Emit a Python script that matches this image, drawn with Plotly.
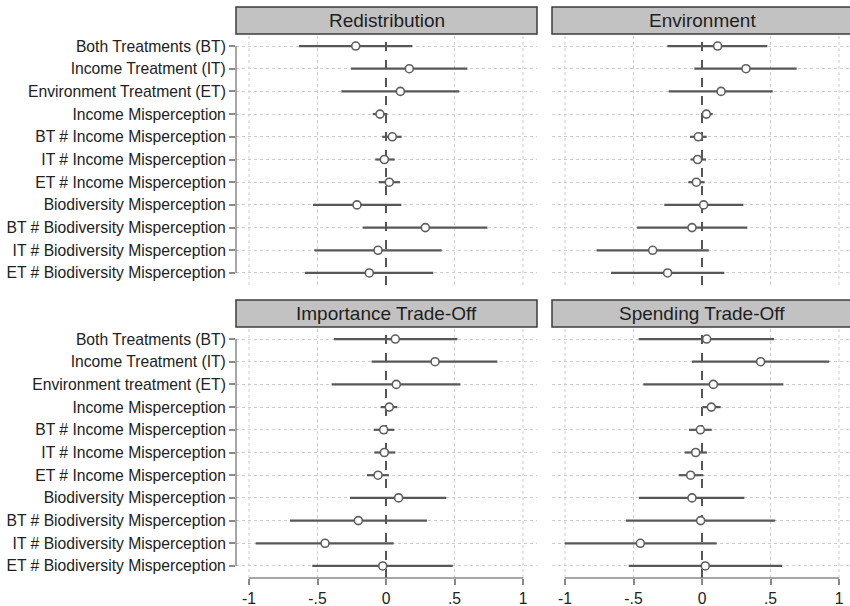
import plotly.graph_objects as go

# ---------------- data ----------------
labels_top = [
    "Both Treatments (BT)", "Income Treatment (IT)", "Environment Treatment (ET)",
    "Income Misperception", "BT # Income Misperception", "IT # Income Misperception",
    "ET # Income Misperception", "Biodiversity Misperception",
    "BT # Biodiversity Misperception", "IT # Biodiversity Misperception",
    "ET # Biodiversity Misperception",
]
labels_bottom = [
    "Both Treatments (BT)", "Income Treatment (IT)", "Environment treatment (ET)",
    "Income Misperception", "BT # Income Misperception", "IT # Income Misperception",
    "ET # Income Misperception", "Biodiversity Misperception",
    "BT # Biodiversity Misperception", "IT # Biodiversity Misperception",
    "ET # Biodiversity Misperception",
]
panel_titles = ["Redistribution", "Environment", "Importance Trade-Off", "Spending Trade-Off"]

redistribution_est = [-0.221, 0.170, 0.105, -0.044, 0.046, -0.012, 0.024, -0.212, 0.287, -0.058, -0.122]
redistribution_lo = [-0.635, -0.255, -0.326, -0.097, -0.027, -0.078, -0.054, -0.533, -0.170, -0.523, -0.591]
redistribution_hi = [0.192, 0.594, 0.535, 0.010, 0.114, 0.063, 0.102, 0.112, 0.740, 0.406, 0.345]

environment_est = [0.114, 0.321, 0.139, 0.032, -0.027, -0.032, -0.041, 0.012, -0.073, -0.360, -0.251]
environment_lo = [-0.253, -0.056, -0.243, -0.007, -0.088, -0.083, -0.100, -0.275, -0.474, -0.769, -0.664]
environment_hi = [0.477, 0.691, 0.516, 0.078, 0.034, 0.029, 0.019, 0.302, 0.331, 0.049, 0.163]

importance_est = [0.068, 0.358, 0.075, 0.024, -0.017, -0.012, -0.058, 0.092, -0.202, -0.445, -0.024]
importance_lo = [-0.380, -0.105, -0.397, -0.039, -0.090, -0.085, -0.139, -0.263, -0.701, -0.951, -0.538]
importance_hi = [0.521, 0.813, 0.543, 0.083, 0.061, 0.068, 0.022, 0.440, 0.299, 0.056, 0.487]

spending_est = [0.034, 0.428, 0.083, 0.068, -0.012, -0.046, -0.083, -0.073, -0.010, -0.450, 0.024]
spending_lo = [-0.462, -0.073, -0.428, 0.002, -0.095, -0.127, -0.170, -0.460, -0.555, -1.002, -0.535]
spending_hi = [0.526, 0.929, 0.594, 0.136, 0.071, 0.036, 0.010, 0.309, 0.535, 0.107, 0.584]

x_tickvals = [-1, -0.5, 0, 0.5, 1]
x_ticktext = ["-1", "-.5", "0", ".5", "1"]

# ---------------- layout geometry (pixels) ----------------
W, H = 850, 606
col_px = [(236, 537), (552, 852)]
row_px = [(34, 285), (327, 578)]          # plot areas (top, bottom) in px from top
strip_px = [(7, 34), (300, 327)]
PX_PER_UNIT = 137.0
zero_px = [386, 702]


def fx(p):
    return p / W


def fy(p):
    return (H - p) / H


panels = [
    (redistribution_est, redistribution_lo, redistribution_hi, labels_top),
    (environment_est, environment_lo, environment_hi, labels_top),
    (importance_est, importance_lo, importance_hi, labels_bottom),
    (spending_est, spending_lo, spending_hi, labels_bottom),
]

LINE_C = "#575757"
GRID_C = "#cdcdcd"
AXIS_C = "#8a8a8a"
FONT = "Liberation Sans, Arial, Helvetica, sans-serif"
TICK_FS = 15.7

fig = go.Figure()
layout = dict(
    width=W, height=H, margin=dict(l=0, r=0, t=0, b=0),
    paper_bgcolor="white", plot_bgcolor="white", showlegend=False,
    font=dict(family=FONT, color="#222222"),
)
shapes = []
annotations = []

for i, (est, lo, hi, labs) in enumerate(panels):
    r, c = divmod(i, 2)
    n = i + 1
    xa = "x" if n == 1 else f"x{n}"
    ya = "y" if n == 1 else f"y{n}"
    xkey = "xaxis" if n == 1 else f"xaxis{n}"
    ykey = "yaxis" if n == 1 else f"yaxis{n}"
    ypos = list(range(len(labs)))

    fig.add_trace(go.Scatter(
        x=est, y=ypos, mode="markers", xaxis=xa, yaxis=ya,
        marker=dict(symbol="circle", size=8, color="white",
                    line=dict(color="#5e5e5e", width=1.6)),
        error_x=dict(type="data", symmetric=False,
                     array=[h - e for h, e in zip(hi, est)],
                     arrayminus=[e - l for e, l in zip(est, lo)],
                     color=LINE_C, thickness=2.2, width=0),
        hoverinfo="skip",
    ))

    cx0, cx1 = col_px[c]
    ry0, ry1 = row_px[r]
    vis_x1 = min(cx1, W)
    bottom = (r == 1)
    left = (c == 0)
    xr = [(cx0 - zero_px[c]) / PX_PER_UNIT, (vis_x1 - zero_px[c]) / PX_PER_UNIT]

    layout[xkey] = dict(
        domain=[fx(cx0), fx(vis_x1)],
        range=xr,
        anchor=ya, tickvals=x_tickvals, ticktext=x_ticktext,
        showticklabels=bottom, ticks="outside" if bottom else "",
        ticklen=6, tickwidth=1.5, tickcolor=AXIS_C,
        tickfont=dict(size=TICK_FS, family=FONT, color="#222222"),
        showgrid=False, zeroline=False, showline=False, fixedrange=True,
    )
    layout[ykey] = dict(
        domain=[fy(ry1), fy(ry0)],
        range=[len(labs) - 1 + 0.53, -0.53],
        anchor=xa, tickvals=ypos, ticktext=labs,
        showticklabels=left, ticks="outside" if left else "",
        ticklen=6, tickwidth=1.5, tickcolor=AXIS_C,
        tickfont=dict(size=TICK_FS, family=FONT, color="#222222"),
        showgrid=True, gridcolor=GRID_C, gridwidth=1, griddash="dot",
        zeroline=False, showline=False, fixedrange=True,
    )

    # vertical dotted gridlines (except at zero)
    for tv in x_tickvals:
        if tv == 0:
            continue
        shapes.append(dict(type="line", xref=xa, yref=f"{ya} domain",
                           x0=tv, x1=tv, y0=0, y1=1, layer="below",
                           line=dict(color=GRID_C, width=1, dash="dot")))
    # dashed zero reference line
    shapes.append(dict(type="line", xref=xa, yref=f"{ya} domain",
                       x0=0, x1=0, y0=0, y1=1, layer="below",
                       line=dict(color="#555555", width=2, dash="dash")))
    # axis lines (Stata style: only across the tick range)
    if bottom:
        shapes.append(dict(type="line", xref=xa, yref=f"{ya} domain",
                           x0=x_tickvals[0], x1=x_tickvals[-1], y0=0, y1=0,
                           line=dict(color=AXIS_C, width=1.5)))
    if left:
        shapes.append(dict(type="line", xref=f"{xa} domain", yref=ya,
                           x0=0, x1=0, y0=ypos[0], y1=ypos[-1],
                           line=dict(color=AXIS_C, width=1.5)))

    # strip (panel title box)
    sy0, sy1 = strip_px[r]
    shapes.append(dict(type="rect", xref="paper", yref="paper",
                       x0=fx(cx0), x1=fx(cx1), y0=fy(sy1), y1=fy(sy0),
                       fillcolor="#c2c2c2", line=dict(color="#3c3c3c", width=1.5)))
    annotations.append(dict(xref="paper", yref="paper",
                            x=(fx(cx0) + fx(cx1)) / 2,
                            y=(fy(sy0) + fy(sy1)) / 2,
                            text=panel_titles[i], showarrow=False,
                            xanchor="center", yanchor="middle",
                            font=dict(size=19, family=FONT, color="#1e1e1e")))

layout["shapes"] = shapes
layout["annotations"] = annotations
fig.update_layout(**layout)
fig.write_html("out.html")
